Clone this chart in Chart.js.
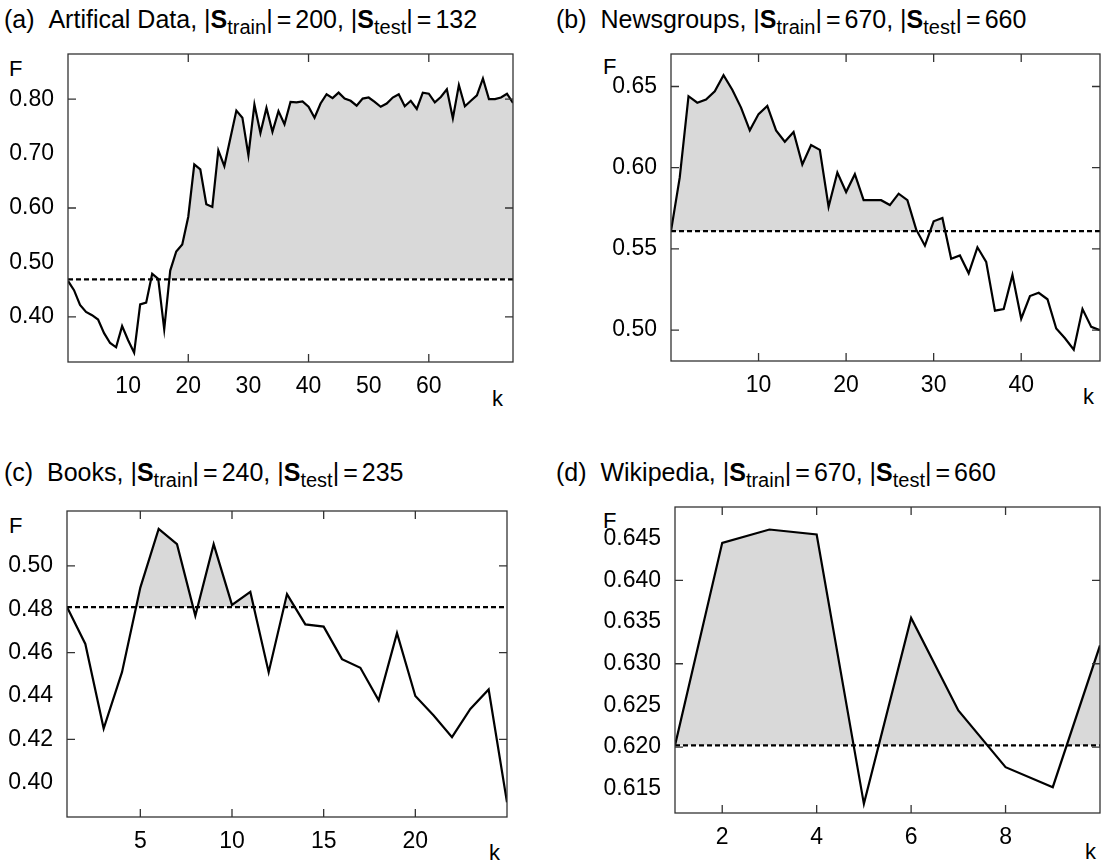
<!DOCTYPE html>
<html>
<head>
<meta charset="utf-8">
<script src="https://cdn.jsdelivr.net/npm/chart.js@4.4.0/dist/chart.umd.min.js"></script>
<style>
  html, body { margin: 0; padding: 0; background: #fff; }
  body { width: 1104px; height: 863px; position: relative; overflow: hidden; font-family: "Liberation Sans", Arial, sans-serif; color: #000; }
  canvas { position: absolute; }
  .title { position: absolute; font-size: 25px; line-height: 28px; white-space: nowrap; }
  .title b { font-weight: bold; }
  .title sub { font-size: 20px; vertical-align: -6px; line-height: 0; }
  .title .eq { margin: 0 4px; }
  .lab { position: absolute; font-size: 22px; line-height: 22px; }
</style>
</head>
<body>
<div class="title" style="left:4px; top:5px;">(a)&nbsp;&nbsp;Artifical Data, |<b>S</b><sub>train</sub>|<span class="eq">=</span>200, |<b>S</b><sub>test</sub>|<span class="eq">=</span>132</div>
<div class="title" style="left:556px; top:5px;">(b)&nbsp;&nbsp;Newsgroups, |<b>S</b><sub>train</sub>|<span class="eq">=</span>670, |<b>S</b><sub>test</sub>|<span class="eq">=</span>660</div>
<div class="title" style="left:4px; top:458px;">(c)&nbsp;&nbsp;Books, |<b>S</b><sub>train</sub>|<span class="eq">=</span>240, |<b>S</b><sub>test</sub>|<span class="eq">=</span>235</div>
<div class="title" style="left:556px; top:458px;">(d)&nbsp;&nbsp;Wikipedia, |<b>S</b><sub>train</sub>|<span class="eq">=</span>670, |<b>S</b><sub>test</sub>|<span class="eq">=</span>660</div>

<div class="lab" style="left:9px; top:58px;">F</div>
<div class="lab" style="left:603px; top:56px;">F</div>
<div class="lab" style="left:9px; top:515px;">F</div>
<div class="lab" style="left:603px; top:510px;">F</div>

<div class="lab" style="left:492px; top:388px;">k</div>
<div class="lab" style="left:1083px; top:386px;">k</div>
<div class="lab" style="left:489px; top:842px;">k</div>
<div class="lab" style="left:1085px; top:841px;">k</div>

<canvas id="cA" width="552" height="400" style="left:0px; top:20px;"></canvas>
<canvas id="cB" width="552" height="400" style="left:552px; top:20px;"></canvas>
<canvas id="cC" width="552" height="400" style="left:0px; top:463px;"></canvas>
<canvas id="cD" width="552" height="400" style="left:552px; top:463px;"></canvas>

<script>
// ---------- data ----------
// (a) Artificial data
const kA = [0,1,2,3,4,5,6,7,8,9,10,11,12,13,14,15,16,17,18,19,20,21,22,23,24,25,26,27,28,29,30,31,32,33,34,35,36,37,38,39,40,41,42,43,44,45,46,47,48,49,50,51,52,53,54,55,56,57,58,59,60,61,62,63,64,65,66,67,68,69,70,71,72,73,74];
const fA = [0.466,0.449,0.422,0.409,0.403,0.395,0.370,0.352,0.344,0.383,0.357,0.334,0.423,0.426,0.479,0.470,0.377,0.485,0.520,0.533,
            0.584,0.680,0.671,0.607,0.602,0.706,0.677,0.728,0.779,0.766,0.697,0.790,0.738,0.784,0.740,0.778,0.754,0.795,0.794,0.796,
            0.786,0.766,0.792,0.809,0.802,0.812,0.801,0.797,0.788,0.801,0.803,0.795,0.786,0.792,0.803,0.809,0.787,0.797,0.782,0.812,
            0.810,0.794,0.804,0.818,0.765,0.826,0.787,0.797,0.807,0.838,0.800,0.800,0.803,0.810,0.793];
const baseA = 0.469;
const xTicksA = [10,20,30,40,50,60];
const xMarksA = [20,40,60];
const yTicksA = [0.40,0.50,0.60,0.70,0.80];
const yMarksA = [0.40,0.60,0.80];

// (b) Newsgroups
const kB = [0,1,2,3,4,5,6,7,8,9,10,11,12,13,14,15,16,17,18,19,20,21,22,23,24,25,26,27,28,29,30,31,32,33,34,35,36,37,38,39,40,41,42,43,44,45,46,47,48,49];
const fB = [0.561,0.594,0.644,0.640,0.642,0.647,0.657,0.648,0.637,0.623,0.633,0.638,0.623,0.616,0.622,0.602,0.614,0.611,0.576,0.597,
            0.585,0.596,0.580,0.580,0.580,0.577,0.584,0.580,0.562,0.552,0.567,0.569,0.544,0.546,0.535,0.551,0.542,0.512,0.513,0.534,
            0.507,0.521,0.523,0.519,0.501,0.495,0.488,0.513,0.502,0.500];
const baseB = 0.561;
const xTicksB = [10,20,30,40];
const xMarksB = [10,20,30,40];
const yTicksB = [0.50,0.55,0.60,0.65];
const yMarksB = [0.50,0.55,0.60,0.65];

// (c) Books
const kC = [1,2,3,4,5,6,7,8,9,10,11,12,13,14,15,16,17,18,19,20,21,22,23,24,25];
const fC = [0.481,0.464,0.425,0.451,0.490,0.517,0.510,0.477,0.510,0.482,0.488,0.451,0.487,0.473,0.472,0.457,0.453,0.438,0.469,0.440,
            0.431,0.421,0.434,0.443,0.391];
const baseC = 0.481;
const xTicksC = [5,10,15,20];
const xMarksC = [5,10,15,20];
const yTicksC = [0.40,0.42,0.44,0.46,0.48,0.50];
const yMarksC = [0.42,0.46,0.50];

// (d) Wikipedia
const kD = [1,2,3,4,5,6,7,8,9,10];
const fD = [0.6202,0.6445,0.6461,0.6455,0.6132,0.6355,0.6244,0.6176,0.6152,0.6322];
const baseD = 0.6202;
const xTicksD = [2,4,6,8];
const xMarksD = [2,4,6,8];
const yTicksD = [0.615,0.620,0.625,0.630,0.635,0.640,0.645];
const yMarksD = [0.620,0.630,0.640];

// ---------- drawing ----------
const boxTicks = {
  id: 'boxTicks',
  afterDatasetsDraw(chart, args, opts) {
    const {ctx, chartArea: a, scales: {x, y}} = chart;
    ctx.save();
    ctx.strokeStyle = '#333';
    ctx.lineWidth = 1.3;
    ctx.beginPath();
    opts.xMarks.forEach(v => {
      const px = x.getPixelForValue(v);
      ctx.moveTo(px, a.bottom); ctx.lineTo(px, a.bottom - 8);
      ctx.moveTo(px, a.top); ctx.lineTo(px, a.top + 8);
    });
    opts.yMarks.forEach(v => {
      const py = y.getPixelForValue(v);
      ctx.moveTo(a.left, py); ctx.lineTo(a.left + 8, py);
      ctx.moveTo(a.right, py); ctx.lineTo(a.right - 8, py);
    });
    ctx.stroke();
    ctx.strokeRect(a.left, a.top, a.right - a.left, a.bottom - a.top);
    ctx.restore();
  }
};

function makePanel(id, k, f, base, cfg) {
  const pts = k.map((kv, i) => ({x: kv, y: f[i]}));
  const basePts = [{x: k[0], y: base}, {x: k[k.length - 1], y: base}];
  new Chart(document.getElementById(id), {
    type: 'line',
    data: {
      datasets: [
        {
          data: basePts,
          borderColor: '#000',
          borderWidth: 2.2,
          borderDash: [5, 3],
          pointRadius: 0,
          fill: false,
          order: 0
        },
        {
          data: pts,
          borderColor: '#000',
          borderWidth: 2.2,
          pointRadius: 0,
          tension: 0,
          fill: {target: {value: base}, above: '#d9d9d9', below: 'rgba(0,0,0,0)'},
          order: 1
        }
      ]
    },
    options: {
      responsive: false,
      animation: false,
      devicePixelRatio: 1,
      layout: {padding: cfg.padding},
      plugins: {legend: {display: false}, tooltip: {enabled: false}, boxTicks: {xMarks: cfg.xMarks, yMarks: cfg.yMarks}},
      scales: {
        x: {
          type: 'linear',
          min: k[0], max: k[k.length - 1],
          border: {display: false},
          grid: {display: false, drawTicks: false},
          afterBuildTicks: s => { s.ticks = cfg.xTicks.map(v => ({value: v})); },
          afterFit: s => { s.height = 44; },
          ticks: {
            padding: 11, color: '#000', maxRotation: 0, autoSkip: false,
            font: {family: 'Liberation Sans', size: 23},
            callback: v => String(v)
          }
        },
        y: {
          type: 'linear',
          min: cfg.ymin, max: cfg.ymax,
          border: {display: false},
          grid: {display: false, drawTicks: false},
          afterBuildTicks: s => { s.ticks = cfg.yTicks.map(v => ({value: v})); },
          afterFit: s => { s.width = cfg.yWidth; },
          ticks: {
            padding: 14, color: '#000', autoSkip: false,
            font: {family: 'Liberation Sans', size: 23},
            callback: v => v.toFixed(cfg.dec)
          }
        }
      }
    },
    plugins: [boxTicks]
  });
}

// canvas A at (0,20): chart area 68..513 x 54..362
makePanel('cA', kA, fA, baseA, {
  padding: {left: 0, top: 34, right: 39, bottom: 400 - 342 - 44},
  yWidth: 68, ymin: 0.317, ymax: 0.883, dec: 2,
  xTicks: xTicksA, xMarks: xMarksA, yTicks: yTicksA, yMarks: yMarksA
});
// canvas B at (552,20): chart area 671..1100 x 54..361
makePanel('cB', kB, fB, baseB, {
  padding: {left: 0, top: 34, right: 4, bottom: 400 - 341 - 44},
  yWidth: 119, ymin: 0.481, ymax: 0.670, dec: 2,
  xTicks: xTicksB, xMarks: xMarksB, yTicks: yTicksB, yMarks: yMarksB
});
// canvas C at (0,463): chart area 67..507 x 511..817
makePanel('cC', kC, fC, baseC, {
  padding: {left: 0, top: 48, right: 45, bottom: 400 - 354 - 44},
  yWidth: 67, ymin: 0.3842, ymax: 0.5253, dec: 2,
  xTicks: xTicksC, xMarks: xMarksC, yTicks: yTicksC, yMarks: yMarksC
});
// canvas D at (552,463): chart area 675..1100 x 507..813
makePanel('cD', kD, fD, baseD, {
  padding: {left: 0, top: 44, right: 4, bottom: 400 - 350 - 44},
  yWidth: 123, ymin: 0.6121, ymax: 0.6488, dec: 3,
  xTicks: xTicksD, xMarks: xMarksD, yTicks: yTicksD, yMarks: yMarksD
});
</script>
</body>
</html>
